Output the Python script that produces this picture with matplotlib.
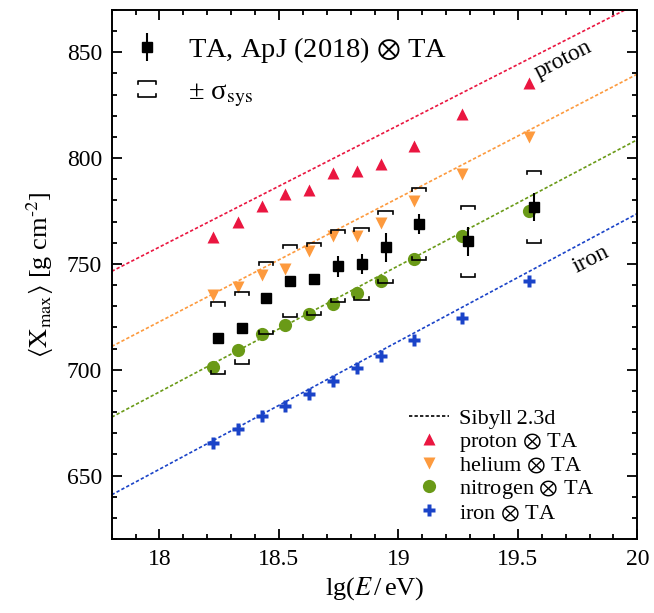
import numpy as np
import matplotlib
matplotlib.use("Agg")
import matplotlib.pyplot as plt
from matplotlib.legend_handler import HandlerBase
from matplotlib.lines import Line2D
from matplotlib.ticker import MultipleLocator

# ---------------- data ----------------
data_lgE = [18.245, 18.345, 18.445, 18.547, 18.647, 18.746, 18.846, 18.946, 19.087, 19.29, 19.567]
ta_xmax = [714.8, 719.9, 733.8, 741.8, 742.8, 748.9, 750.0, 757.9, 768.9, 760.6, 776.8]
ta_stat = [2.0, 2.0, 2.0, 2.5, 2.5, 4.9, 4.9, 6.8, 4.9, 6.9, 6.7]
ta_sys = [17, 17, 17, 17, 17, 17, 17, 17, 17, 17, 17]

model_lgE = [18.225, 18.327, 18.427, 18.527, 18.627, 18.727, 18.827, 18.927, 19.067, 19.268, 19.545]
proton = [762.7, 769.6, 777.6, 783.1, 784.7, 793.1, 794.1, 797.2, 805.7, 820.8, 835.7]
helium = [735.2, 739.2, 744.6, 747.8, 755.9, 763.3, 763.3, 769.3, 779.5, 792.4, 810.1]
nitrogen = [701.3, 709.2, 717.0, 720.9, 726.1, 731.2, 736.3, 741.8, 752.4, 763.0, 774.8]
iron = [665.3, 672.0, 678.0, 683.0, 688.7, 694.7, 701.0, 706.5, 713.9, 724.6, 741.8]

sibyll_lgE = [17.8, 20.0]
sibyll_proton = [746.5, 873.0]
sibyll_helium = [711.0, 839.7]
sibyll_nitrogen = [677.6, 808.7]
sibyll_iron = [640.9, 773.8]

c_p = "#ea1640"
c_he = "#fd9a3e"
c_n = "#6a9a17"
c_fe = "#1a43c8"

plt.rcParams["font.family"] = ["Liberation Serif", "DejaVu Serif"]
plt.rcParams["mathtext.fontset"] = "stix"

fig = plt.figure(figsize=(6.54, 6.13), dpi=100)
ax = fig.add_axes([0.1708, 0.1207, 0.8037, 0.863])

dash = (0, (2.0, 1.3))
lw_s = 1.2
ax.plot(sibyll_lgE, sibyll_proton, color=c_p, ls=dash, lw=lw_s)
ax.plot(sibyll_lgE, sibyll_helium, color=c_he, ls=dash, lw=lw_s)
ax.plot(sibyll_lgE, sibyll_nitrogen, color=c_n, ls=dash, lw=lw_s)
ax.plot(sibyll_lgE, sibyll_iron, color=c_fe, ls=dash, lw=lw_s)

ax.plot(model_lgE, proton, ls="none", marker="^", ms=9, color=c_p, mec="none")
ax.plot(model_lgE, helium, ls="none", marker="v", ms=9, color=c_he, mec="none")
ax.plot(model_lgE, nitrogen, ls="none", marker="o", ms=9.5, color=c_n, mec="none")
ax.plot(model_lgE, iron, ls="none", marker="P", ms=9, color=c_fe, mec="none")

# systematic brackets
bw = 0.03
bt = 1.5
for x, y, s in zip(data_lgE, ta_xmax, ta_sys):
    ax.plot([x - bw, x - bw, x + bw, x + bw], [y + s - bt, y + s, y + s, y + s - bt],
            color="black", lw=1.2, solid_joinstyle="miter")
    ax.plot([x - bw, x - bw, x + bw, x + bw], [y - s + bt, y - s, y - s, y - s + bt],
            color="black", lw=1.2, solid_joinstyle="miter")

ta = ax.errorbar(data_lgE, ta_xmax, yerr=ta_stat, fmt="s", ms=7.2, color="black",
                 ecolor="black", elinewidth=1.5, capsize=0, zorder=5)

ax.set_xlim(17.8, 20.0)
ax.set_ylim(620, 870)
ax.xaxis.set_major_locator(MultipleLocator(0.5))
ax.xaxis.set_minor_locator(MultipleLocator(0.1))
ax.yaxis.set_major_locator(MultipleLocator(50))
ax.yaxis.set_minor_locator(MultipleLocator(10))
ax.xaxis.set_major_formatter(matplotlib.ticker.FuncFormatter(lambda v, p: f"{v:g}"))
ax.tick_params(which="both", direction="in", top=True, right=True, width=1.3, labelsize=17)
ax.tick_params(which="major", length=7.5, pad=7)
ax.tick_params(which="minor", length=3.8)
for sp in ax.spines.values():
    sp.set_linewidth(1.4)

ax.set_xlabel(r"lg($E\,$/$\,$eV)", fontsize=19, labelpad=4)
ax.set_ylabel(r"$\left\langle \mathrm{X}_{\rm max} \right\rangle$ [g cm$^{\text{-}2}$]",
              fontsize=19, labelpad=8)

ax.text(19.69, 846.5, "proton", rotation=27, ha="center", va="center", fontsize=17,
        rotation_mode="anchor")
ax.text(19.805, 752, "iron", rotation=27, ha="center", va="center", fontsize=17,
        rotation_mode="anchor")


class BracketHandler(HandlerBase):
    def create_artists(self, legend, orig_handle, xdescent, ydescent, width, height,
                       fontsize, trans):
        cx = -xdescent + width / 2
        cy = -ydescent + height / 2
        hw, dy, t = 6.3, 5.8, 2.2
        top = Line2D([cx - hw, cx - hw, cx + hw, cx + hw],
                     [cy + dy - t, cy + dy, cy + dy, cy + dy - t],
                     color="black", lw=1.2, transform=trans)
        bot = Line2D([cx - hw, cx - hw, cx + hw, cx + hw],
                     [cy - dy + t, cy - dy, cy - dy, cy - dy + t],
                     color="black", lw=1.2, transform=trans)
        return [top, bot]


bracket_handle = object()
leg1 = ax.legend([ta, bracket_handle],
                 [r"TA, ApJ (2018) $\otimes$ TA", "± σ$_{\\rm sys}$"],
                 handler_map={bracket_handle: BracketHandler()},
                 loc="upper left", bbox_to_anchor=(0.04, 0.953), frameon=False,
                 fontsize=20.5, handlelength=1.0, handletextpad=0.95, numpoints=1,
                 labelspacing=0.5, borderpad=0, borderaxespad=0)
ax.add_artist(leg1)

h_sib = Line2D([], [], color="black", ls=dash, lw=lw_s)
h_p = Line2D([], [], ls="none", marker="^", ms=9, color=c_p, mec="none")
h_he = Line2D([], [], ls="none", marker="v", ms=9, color=c_he, mec="none")
h_n = Line2D([], [], ls="none", marker="o", ms=9.5, color=c_n, mec="none")
h_fe = Line2D([], [], ls="none", marker="P", ms=9, color=c_fe, mec="none")
ax.legend([h_sib, h_p, h_he, h_n, h_fe],
          ["Sibyll\u20092.3d", r"proton $\otimes$ TA", r"helium $\otimes$ TA",
           r"nitrogen $\otimes$ TA", r"iron $\otimes$ TA"],
          loc="lower left", bbox_to_anchor=(0.565, 0.03), frameon=False, fontsize=16,
          handlelength=1.8, handletextpad=0.45, labelspacing=0.08, borderpad=0,
          borderaxespad=0)

fig.savefig("out.png", dpi=100)
